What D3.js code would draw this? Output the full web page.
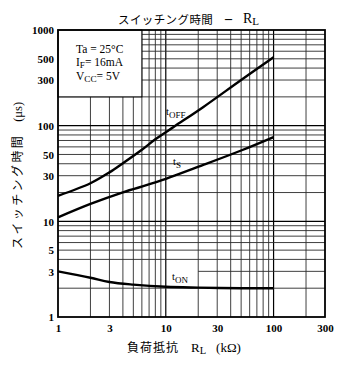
<!DOCTYPE html>
<html><head><meta charset="utf-8">
<script src="https://cdn.jsdelivr.net/npm/d3@7"></script>
<style>
html,body{margin:0;padding:0;background:#fff;}
svg{display:block;}
</style></head>
<body>
<svg id="c" width="343" height="365"></svg>
<script>
// ---- data ----
const xTickLabels = [1, 3, 10, 30, 100, 300];
const yTickLabels = [1, 3, 5, 10, 30, 50, 100, 300, 500, 1000];
const xGrid = [2,3,4,5,6,7,8,9,10,20,30,40,50,60,70,80,90,100,200];
const yGrid = [2,4,5,6,7,8,9,10,20,30,40,50,60,70,80,90,100,200,300,400,500,600,700,800,900];
const yGridPartial = [3];           // line drawn only from RL=20 onward
const rlOff = [1, 2, 3, 4, 6, 8, 12, 22, 50, 100];
const tOff  = [18.5, 25, 32.5, 40.5, 56, 72, 98, 155, 300, 520];
const rlS   = [1, 2, 4, 8, 22, 50, 100];
const tS    = [11, 15.2, 20.1, 25.5, 38.7, 55, 76];
const rlOn  = [1, 2, 3, 5, 10, 20, 50, 100];
const tOn   = [3.0, 2.57, 2.32, 2.18, 2.07, 2.03, 2.0, 2.0];

const svg = d3.select("#c");
const x = d3.scaleLog().domain([1, 300]).range([58, 325]);
const y = d3.scaleLog().domain([1, 1000]).range([317, 30]);
const serif = "'Liberation Serif', 'DejaVu Serif', serif";
const jp = "'Noto Sans CJK JP', sans-serif";

// grid
const g = svg.append("g");
g.selectAll(".vx").data(xGrid).join("line")
  .attr("x1", d => x(d)).attr("x2", d => x(d))
  .attr("y1", y(1)).attr("y2", y(1000))
  .attr("stroke", d => (d === 10 || d === 100) ? "#000" : "#2a2a2a")
  .attr("stroke-width", d => (d === 10 || d === 100) ? 1.2 : 0.9);
g.selectAll(".hy").data(yGrid).join("line")
  .attr("x1", x(1)).attr("x2", x(300))
  .attr("y1", d => y(d)).attr("y2", d => y(d))
  .attr("stroke", d => (d === 10 || d === 100) ? "#000" : "#2a2a2a")
  .attr("stroke-width", d => (d === 10 || d === 100) ? 1.2 : 0.9);
g.selectAll(".hp").data(yGridPartial).join("line")
  .attr("x1", x(20)).attr("x2", x(300))
  .attr("y1", d => y(d)).attr("y2", d => y(d))
  .attr("stroke", "#2a2a2a").attr("stroke-width", 0.9);

// condition box
svg.append("rect")
  .attr("x", x(1)).attr("y", y(1000))
  .attr("width", x(6) - x(1)).attr("height", y(200) - y(1000))
  .attr("fill", "#fff").attr("stroke", "#000").attr("stroke-width", 1);

// frame
svg.append("rect")
  .attr("x", x(1)).attr("y", y(1000))
  .attr("width", x(300) - x(1)).attr("height", y(1) - y(1000))
  .attr("fill", "none").attr("stroke", "#000").attr("stroke-width", 1.8);

// curves
const line = d3.line().x(d => x(d[0])).y(d => y(d[1])).curve(d3.curveCatmullRom.alpha(0.5));
[[rlOff, tOff], [rlS, tS], [rlOn, tOn]].forEach(([xs, ys]) => {
  svg.append("path").datum(xs.map((v, i) => [v, ys[i]]))
    .attr("d", line).attr("fill", "none")
    .attr("stroke", "#000").attr("stroke-width", 2.4)
    .attr("stroke-linejoin", "round");
});

// axes tick labels
const ax = svg.append("g").attr("transform", `translate(0,${y(1) + 15})`)
  .call(d3.axisBottom(x).tickValues(xTickLabels).tickSize(0).tickPadding(0).tickFormat(d3.format("d")));
const ay = svg.append("g").attr("transform", `translate(${x(1) - 4},0)`)
  .call(d3.axisLeft(y).tickValues(yTickLabels).tickSize(0).tickPadding(0).tickFormat(d3.format("d")));
[ax, ay].forEach(a => {
  a.select(".domain").remove();
  a.selectAll("text").attr("font-family", serif).attr("font-size", 11)
    .attr("font-weight", "bold").attr("fill", "#000");
});
ax.selectAll("text").attr("dy", "0");
ay.selectAll("text").attr("dy", "0.35em");

// helper for text with subscript
function subText(sel, xx, yy, parts, size, family) {
  const t = sel.append("text").attr("x", xx).attr("y", yy)
    .attr("font-family", family).attr("font-size", size).attr("fill", "#000");
  parts.forEach(p => {
    const s = t.append("tspan").text(p.t);
    if (p.sub) s.attr("font-size", p.fs || size * 0.8).attr("dy", p.dy || 3);
    if (p.up) s.attr("dy", p.up);
  });
  return t;
}

// condition text
subText(svg, 76, 53, [{t: "Ta = 25°C"}], 11.5, serif);
subText(svg, 76, 66, [{t: "I"}, {t: "F", sub: true, dy: 2}, {t: "= 16mA", up: -2}], 11.5, serif);
subText(svg, 76, 80, [{t: "V"}, {t: "CC", sub: true, dy: 2}, {t: "= 5V", up: -2}], 11.5, serif);

// curve labels
subText(svg, 166, 115, [{t: "t"}, {t: "OFF", sub: true, dy: 3, fs: 9}], 10.5, serif);
subText(svg, 173, 165, [{t: "t"}, {t: "S", sub: true, dy: 3, fs: 9}], 10.5, serif);
subText(svg, 172, 280, [{t: "t"}, {t: "ON", sub: true, dy: 3, fs: 9}], 10.5, serif);

// title
svg.append("text").attr("x", 118).attr("y", 24).text("スイッチング時間")
  .attr("font-family", jp).attr("font-size", 11.5).attr("letter-spacing", 0.4).attr("fill", "#000");
svg.append("text").attr("x", 228.5).attr("y", 23).attr("text-anchor", "middle").text("–")
  .attr("font-family", serif).attr("font-size", 14).attr("font-weight", "bold").attr("fill", "#000");
const tr = svg.append("text").attr("x", 243).attr("y", 23).attr("fill", "#000").attr("font-family", serif);
tr.append("tspan").text("R").attr("font-size", 14);
tr.append("tspan").text("L").attr("font-size", 11).attr("dy", 2);

// x label
const xl = svg.append("text").attr("x", 127).attr("y", 352).attr("fill", "#000");
xl.append("tspan").text("負荷抵抗").attr("font-family", jp).attr("font-size", 12).attr("letter-spacing", 1);
xl.append("tspan").text("R").attr("font-family", serif).attr("font-size", 13).attr("dx", 12);
xl.append("tspan").text("L").attr("font-family", serif).attr("font-size", 10.5).attr("dy", 2);
xl.append("tspan").text("(kΩ)").attr("font-family", serif).attr("font-size", 13).attr("dx", 10).attr("dy", -2);

// y label
const yl = svg.append("text").attr("transform", "translate(22,249) rotate(-90)").attr("fill", "#000");
yl.append("tspan").text("スイッチング時間").attr("font-family", jp).attr("font-size", 12).attr("letter-spacing", 2.4);
yl.append("tspan").text("(μs)").attr("font-family", serif).attr("font-size", 12.5).attr("dx", 12);
</script>
</body></html>
